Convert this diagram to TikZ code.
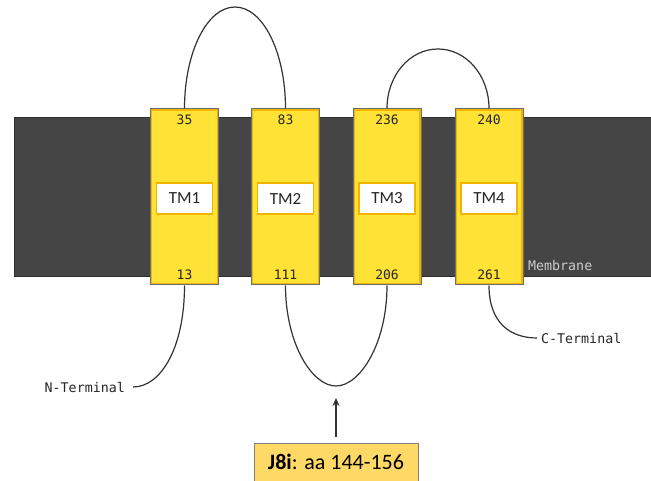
\documentclass[tikz,border=0pt]{standalone}
\usepackage{fontspec}
\newfontfamily\monof{DejaVu Sans Mono}
\newfontfamily\calib{Carlito}
\usetikzlibrary{arrows.meta}
\definecolor{membfill}{HTML}{454545}
\definecolor{membdraw}{HTML}{2E2E2E}
\definecolor{tmyellow}{HTML}{FFE236}
\definecolor{tmorange}{HTML}{F2B400}
\definecolor{tmgray}{HTML}{6E6E6E}
\definecolor{loopcol}{HTML}{333333}
\definecolor{jfill}{HTML}{FFD966}
\definecolor{jdraw}{HTML}{7F7F7F}
\tikzset{
  membstyle/.style={draw=membdraw, fill=membfill, line width=1pt, inner sep=0pt},
  tmbox/.style={draw=tmgray, fill=tmyellow, line width=1pt, minimum width=68pt, minimum height=176pt, inner sep=0pt},
  tmlabel/.style={draw=tmorange, fill=white, line width=1.3pt, minimum width=56pt, minimum height=31pt, inner sep=0pt, font=\calib\fontsize{17}{19}\selectfont, text=black!85},
  num/.style={font=\monof\fontsize{13}{14}\selectfont, text=black!85, inner sep=0pt},
  termtxt/.style={font=\monof\fontsize{13.3}{15}\selectfont, text=black!85, inner sep=0pt},
  loopline/.style={draw=loopcol, line width=1.2pt},
  jbox/.style={draw=jdraw, fill=jfill, line width=1pt, minimum width=164pt, minimum height=38pt, inner sep=0pt, font=\calib\fontsize{22}{24}\selectfont}
}
\begin{document}
\begin{tikzpicture}[x=1pt,y=-1pt]
\useasboundingbox (0,0) rectangle (651,481);
\fill[white] (0,0) rectangle (651,481);

% membrane
\node[membstyle, minimum width=645pt, minimum height=159pt, anchor=north west] (membrane) at (14,117) {};
\node[termtxt, text=black!20, anchor=west] (memblabel) at (528,266) {Membrane};

% loop end points
\coordinate (peak12) at (235,7);
\coordinate (peak34) at (438,49);
\coordinate (low23) at (336,386);
\coordinate (nend) at (133,387);
\coordinate (cend) at (537,338);
\coordinate (tip) at (336,398);

% TM boxes
\foreach \i/\x in {1/184.5, 2/285.5, 3/387, 4/489}{
  \node[tmbox] (tm\i) at (\x,197) {};
  \draw[tmorange, line width=1.2pt] ([shift={(1.6,1.6)}]tm\i.north west) rectangle ([shift={(-1.6,-1.6)}]tm\i.south east);
  \node[tmlabel] (lab\i) at ([shift={(0,1.5)}]tm\i.center) {TM\i};
}

\draw[loopline] (tm1.north) .. controls +(0,-56.3) and +(-27.9,0) .. (peak12)
                 .. controls +(27.9,0) and +(0,-56.3) .. (tm2.north);
\draw[loopline] (tm3.north) .. controls +(0,-33.1) and +(-28.2,0) .. (peak34)
                 .. controls +(28.2,0) and +(0,-33.1) .. (tm4.north);
\draw[loopline] (tm2.south) .. controls +(0,58) and +(-24,0) .. (low23)
                 .. controls +(24,0) and +(0,58) .. (tm3.south);
\draw[loopline] (tm1.south) .. controls +(0,62) and +(28,0) .. (nend);
\draw[loopline] (tm4.south) .. controls +(0,38) and +(-26,0) .. (cend);

% numbers
\node[num] (n35) at (184.5,120) {35};
\node[num] (n13) at (184.5,275) {13};
\node[num] (n83) at (285.5,120) {83};
\node[num] (n111) at (285.5,275) {111};
\node[num] (n236) at (387,120) {236};
\node[num] (n206) at (387,275) {206};
\node[num] (n240) at (489,120) {240};
\node[num] (n261) at (489,275) {261};

% terminal labels
\node[termtxt, anchor=east] (nterm) at (125,388) {N-Terminal};
\node[termtxt, anchor=west] (cterm) at (541,339) {C-Terminal};

% J8i box and arrow
\node[jbox] (j8i) at (336,462) {\textbf{J8i}: aa 144-156};
\draw[loopline, -{Stealth[length=8pt,width=7pt]}, shorten <=6pt] (j8i.north) -- (tip);
\end{tikzpicture}
\end{document}
